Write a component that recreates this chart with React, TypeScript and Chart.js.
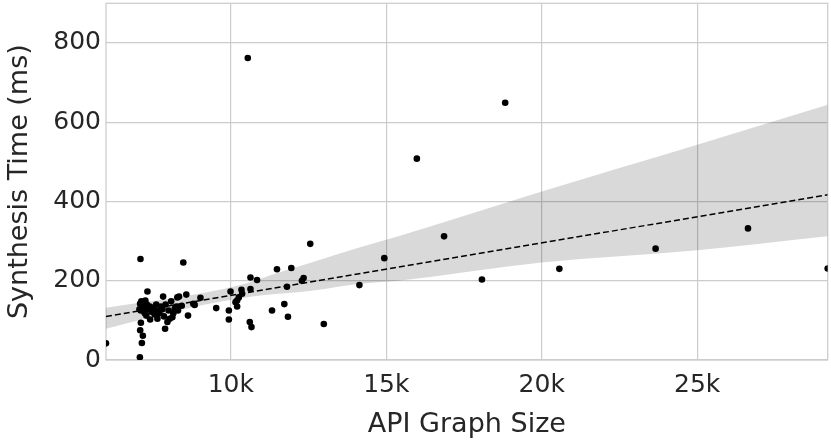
import React, { useEffect, useRef } from "react";
import { Chart, registerables } from "chart.js";

Chart.register(...registerables);

// Scatter data: API graph size vs synthesis time (ms)
const graphSize = [
  5984, 7074, 7138, 7170, 7083, 7106, 7093, 7080, 7120, 7150, 7200, 7060, 7100, 7180, 7250,
  7300, 7317, 7350, 7400, 7230, 7280, 7404, 7450, 7500, 7550, 7600, 7650, 7638, 7700, 7750,
  7821, 7800, 7850, 7885, 7900, 7960, 8000, 8035, 8080, 8119, 8150, 8200, 8279, 8333, 8250,
  8300, 8420, 8471, 8567, 8622, 8792, 8836, 9022, 9529, 9936, 9936, 9990, 10150, 10202, 10202,
  10256, 10342, 10362, 10545, 10631, 10631, 10843, 10609, 10663, 11324, 11484, 11720, 11806, 11837, 11945,
  12286, 12340, 12554, 12990, 14135, 14936, 15983, 16859, 18077, 18824, 20567, 23663, 26635, 29199,
];
const synthTime = [
  42, 7, 43, 61, 75, 94, 255, 142, 148, 138, 145, 128, 125, 130, 150,
  140, 173, 128, 135, 118, 112, 102, 122, 130, 115, 140, 125, 104, 118, 135,
  160, 128, 110, 79, 140, 96, 125, 104, 148, 108, 118, 130, 158, 160, 135,
  125, 137, 246, 165, 112, 142, 139, 157, 131, 125, 102, 173, 146, 150, 135,
  158, 177, 167, 762, 179, 208, 202, 96, 83, 125, 229, 141, 185, 109, 232,
  200, 207, 293, 91, 189, 257, 508, 312, 203, 649, 230, 281, 332, 231,
];

// Regression fit line
const fitX = [5984, 29199];
const fitY = [110, 417];

// Confidence band edges
const bandX = [5984, 8974, 10481, 11538, 12596, 14103, 15385, 20000, 25000, 29199];
const bandUpper = [132, 167, 193, 221, 246, 283, 312, 425, 543, 644];
const bandLower = [79, 137, 158, 167, 175, 192, 200, 246, 277, 312];

// Axes
const xMin = 5984;
const xMax = 29199;
const yMin = 0;
const yMax = 900;
const xTicks = [10000, 15000, 20000, 25000];
const xTickLabels = ["10k", "15k", "20k", "25k"];
const yTicks = [0, 200, 400, 600, 800];
const xTitle = "API Graph Size";
const yTitle = "Synthesis Time (ms)";

const TEXT = "#262626";
const GRID = "#cccccc";

const frame = {
  id: "frame",
  beforeDatasetsDraw(chart: any) {
    const { ctx, chartArea } = chart;
    ctx.save();
    ctx.strokeStyle = GRID;
    ctx.lineWidth = 1.25;
    ctx.strokeRect(chartArea.left, chartArea.top, chartArea.right - chartArea.left, chartArea.bottom - chartArea.top);
    ctx.restore();
  },
};

export default function App() {
  const ref = useRef<HTMLCanvasElement | null>(null);

  useEffect(() => {
    document.body.style.margin = "0";
    const canvas = ref.current;
    if (!canvas) return;
    Chart.defaults.font.family = "'DejaVu Sans', sans-serif";

    const pts = graphSize.map((x, i) => ({ x, y: synthTime[i] }));
    const lower = bandX.map((x, i) => ({ x, y: bandLower[i] }));
    const upper = bandX.map((x, i) => ({ x, y: bandUpper[i] }));
    const fit = fitX.map((x, i) => ({ x, y: fitY[i] }));

    const chart = new Chart(canvas, {
      type: "scatter",
      data: {
        datasets: [
          {
            data: lower,
            showLine: true,
            borderWidth: 0,
            borderColor: "rgba(0,0,0,0)",
            pointRadius: 0,
            cubicInterpolationMode: "monotone",
            fill: false,
            order: 4,
          } as any,
          {
            data: upper,
            showLine: true,
            borderWidth: 0,
            borderColor: "rgba(0,0,0,0)",
            backgroundColor: "rgba(0,0,0,0.15)",
            pointRadius: 0,
            cubicInterpolationMode: "monotone",
            fill: "-1",
            order: 3,
          } as any,
          {
            data: fit,
            showLine: true,
            borderColor: "#000000",
            borderWidth: 1.5,
            borderDash: [6, 3],
            pointRadius: 0,
            fill: false,
            order: 1,
          } as any,
          {
            data: pts,
            backgroundColor: "#000000",
            borderWidth: 0,
            pointRadius: 3.3,
            pointHoverRadius: 3.3,
            order: 0,
          } as any,
        ],
      },
      options: {
        responsive: false,
        animation: false,
        events: [],
        layout: { padding: { left: 0, right: 0, top: 0, bottom: 0 } },
        plugins: {
          legend: { display: false },
          tooltip: { enabled: false },
        },
        scales: {
          x: {
            type: "linear",
            min: xMin,
            max: xMax,
            afterBuildTicks: (s: any) => {
              s.ticks = xTicks.map((v) => ({ value: v }));
            },
            afterFit: (s: any) => {
              s.height = 83;
              s.paddingLeft = 0;
              s.paddingRight = 0;
            },
            grid: { color: GRID, lineWidth: 1.2, drawTicks: false },
            border: { display: false },
            ticks: {
              padding: 10,
              color: TEXT,
              font: { size: 25 },
              maxRotation: 0,
              autoSkip: false,
              callback: (v: any) => {
                const i = xTicks.indexOf(Number(v));
                return i >= 0 ? xTickLabels[i] : "";
              },
            },
            title: {
              display: true,
              text: xTitle,
              color: TEXT,
              font: { size: 27 },
              padding: { top: 0, bottom: 2 },
            },
          },
          y: {
            type: "linear",
            min: yMin,
            max: yMax,
            afterBuildTicks: (s: any) => {
              s.ticks = yTicks.map((v) => ({ value: v }));
            },
            afterFit: (s: any) => {
              s.width = 106;
              s.paddingTop = 0;
              s.paddingBottom = 0;
            },
            grid: { color: GRID, lineWidth: 1.2, drawTicks: false },
            border: { display: false },
            ticks: {
              padding: 5,
              color: TEXT,
              font: { size: 25 },
              autoSkip: false,
            },
            title: {
              display: true,
              text: yTitle,
              color: TEXT,
              font: { size: 27 },
              padding: { top: 4, bottom: 0 },
            },
          },
        },
      } as any,
      plugins: [frame],
    });

    return () => chart.destroy();
  }, []);

  return (
    <div style={{ position: "fixed", left: 0, top: 0, width: 831, height: 443, background: "#ffffff" }}>
      <canvas ref={ref} width={831} height={443} style={{ display: "block" }} />
    </div>
  );
}
